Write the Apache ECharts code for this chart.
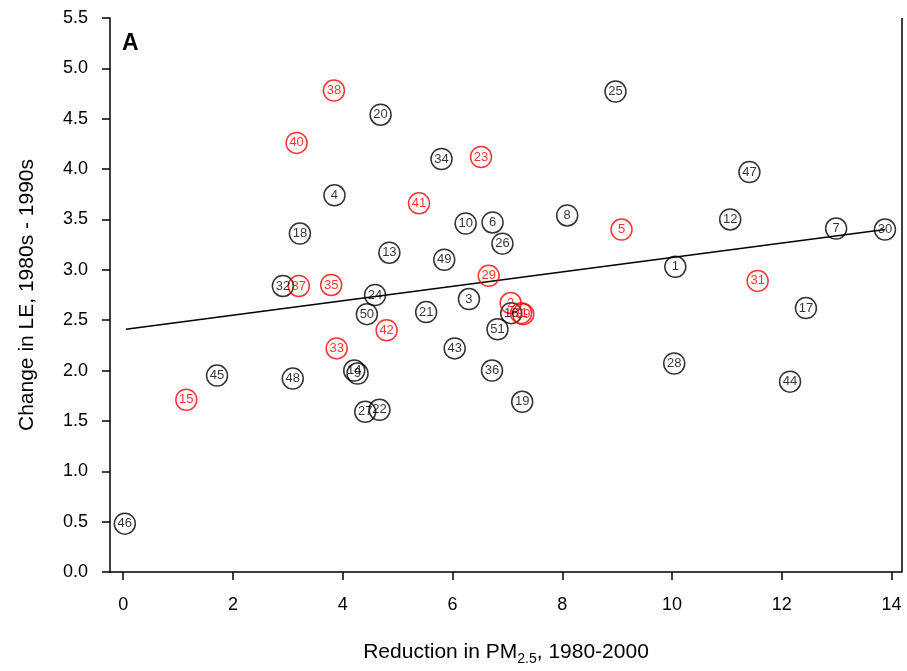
<!DOCTYPE html>
<html>
<head>
<meta charset="utf-8">
<script src="https://cdn.jsdelivr.net/npm/echarts@6/dist/echarts.min.js"></script>
<style>html,body{margin:0;padding:0;background:#fff}#c{width:907px;height:671px}</style>
</head>
<body>
<div id="c"></div>
<script>
const blackLabels = ['1','3','4','6','7','8','9','10','12','13','14','16','17','18','19','20','21','22','24','25','26','27','28','30','32','34','36','43','44','45','46','47','48','49','50','51'];
const blackX = [10.06,6.30,3.85,6.73,12.99,8.09,4.27,6.24,11.06,4.85,4.21,7.07,12.44,3.22,7.27,4.69,5.52,4.67,4.59,8.97,6.91,4.41,10.04,13.88,2.91,5.80,6.72,6.04,12.15,1.71,0.03,11.41,3.09,5.85,4.44,6.82];
const blackY = [3.03,2.71,3.74,3.47,3.41,3.54,1.97,3.46,3.50,3.17,2.00,2.57,2.62,3.36,1.69,4.54,2.58,1.61,2.75,4.77,3.26,1.59,2.07,3.40,2.84,4.10,2.00,2.22,1.89,1.95,0.48,3.97,1.92,3.10,2.56,2.41];
const redLabels = ['2','5','11','15','23','29','31','33','35','37','38','39','40','41','42'];
const redX = [7.06,9.08,7.25,1.15,6.52,6.66,11.56,3.89,3.79,3.20,3.84,7.29,3.16,5.39,4.80];
const redY = [2.67,3.40,2.57,1.71,4.12,2.94,2.89,2.22,2.85,2.84,4.78,2.56,4.26,3.66,2.40];
const regX = [0.05, 13.88];
const regY = [2.41, 3.40];
const xTicks = [0,2,4,6,8,10,12,14];

const font = 'Liberation Sans, Arial, sans-serif';
function pts(xs, ys, ls){ return xs.map((x,i)=>[x, ys[i], ls[i]]); }
function scatter(data, color){
  return {
    type:'scatter', data:data, symbol:'circle', symbolSize:21,
    itemStyle:{color:'rgba(0,0,0,0)', borderColor:color, borderWidth:1.5},
    label:{show:true, position:'inside', formatter:p=>p.data[2], color:color, fontSize:13, fontFamily:font},
    emphasis:{disabled:true}, z:3
  };
}
const chart = echarts.init(document.getElementById('c'), null, {renderer:'canvas'});
chart.setOption({
  animation:false,
  backgroundColor:'#fff',
  grid:{left:110, right:5, top:18, bottom:99, outerBoundsMode:'none', containLabel:false},
  xAxis:{
    type:'value', min:-0.24, max:14.19,
    splitLine:{show:false},
    axisLine:{show:true, onZero:false, lineStyle:{color:'#000', width:1.5}},
    axisTick:{show:true, customValues:xTicks, length:8, lineStyle:{color:'#000', width:1.5}},
    axisLabel:{customValues:xTicks, color:'#000', fontSize:18, fontFamily:font, margin:24},
    name:'{a|Reduction in PM}{s|2.5}{a|, 1980-2000}', nameLocation:'middle', nameGap:66,
    nameTextStyle:{rich:{a:{fontSize:21, fontFamily:font, color:'#000'}, s:{fontSize:14, fontFamily:font, color:'#000', verticalAlign:'bottom', padding:[14,0,0,0]}}}
  },
  yAxis:{
    type:'value', min:0, max:5.5, interval:0.5,
    splitLine:{show:false},
    axisLine:{show:true, onZero:false, lineStyle:{color:'#000', width:1.5}},
    axisTick:{show:true, length:8, lineStyle:{color:'#000', width:1.5}},
    axisLabel:{formatter:v=>v.toFixed(1), color:'#000', fontSize:18, fontFamily:font, margin:22},
    name:'Change in LE, 1980s - 1990s', nameLocation:'middle', nameGap:72,
    nameTextStyle:{fontSize:21, fontFamily:font, color:'#000'}
  },
  graphic:[
    {type:'line', shape:{x1:902, y1:18, x2:902, y2:572}, style:{stroke:'#000', lineWidth:1.5}},
    {type:'text', left:122, top:32, style:{text:'A', fontSize:23, fontWeight:'bold', fontFamily:font, fill:'#000'}}
  ],
  series:[
    {type:'line', data:regX.map((x,i)=>[x, regY[i]]), symbol:'none', lineStyle:{color:'#000', width:1.5}, z:2},
    scatter(pts(blackX, blackY, blackLabels), '#000'),
    scatter(pts(redX, redY, redLabels), '#ff0000')
  ]
});
</script>
</body>
</html>
